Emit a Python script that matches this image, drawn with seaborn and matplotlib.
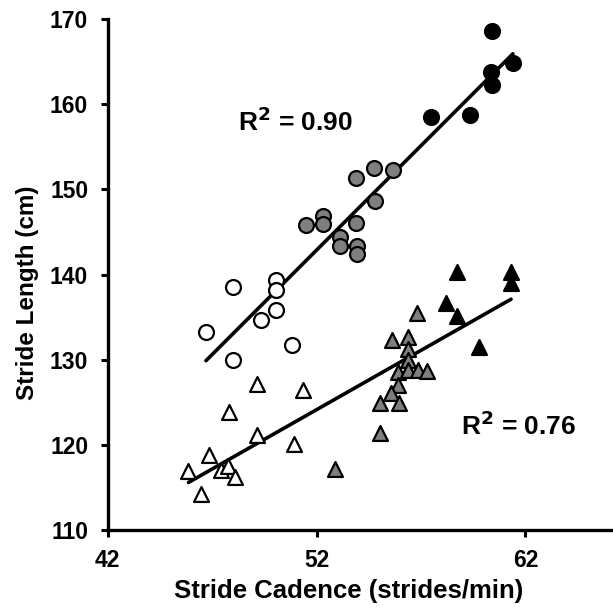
import matplotlib
matplotlib.use("Agg")
import matplotlib.pyplot as plt
import seaborn as sns
import numpy as np
import pandas as pd

# Upper group (circles)
open_circ_x = [47.98, 50.05, 50.08, 50.05, 49.33, 46.71, 50.81, 47.98]
open_circ_y = [138.5, 139.4, 138.2, 135.8, 134.7, 133.2, 131.7, 130.0]
gray_circ_x = [53.87, 54.76, 55.65, 54.78, 52.32, 52.32, 51.52, 53.90, 53.11, 53.11, 53.94, 53.94]
gray_circ_y = [151.3, 152.5, 152.3, 148.6, 146.9, 145.9, 145.8, 146.1, 144.4, 143.4, 143.4, 142.4]
black_circ_x = [60.40, 61.40, 60.37, 60.40, 57.46, 59.33]
black_circ_y = [168.6, 164.8, 163.8, 162.3, 158.5, 158.7]

# Lower group (triangles)
open_tri_x = [49.17, 51.37, 47.79, 49.14, 50.94, 46.84, 45.87, 47.43, 47.78, 48.11, 46.48]
open_tri_y = [127.2, 126.4, 123.8, 121.2, 120.1, 118.8, 116.9, 117.1, 117.5, 116.2, 114.2]
gray_tri_x = [56.83, 55.60, 56.36, 56.36, 56.36, 55.92, 56.40, 56.87, 57.30, 55.92, 55.55, 55.05, 55.95, 55.05, 52.90]
gray_tri_y = [135.5, 132.3, 132.7, 131.2, 130.0, 128.6, 128.8, 128.8, 128.7, 127.0, 126.1, 124.9, 124.9, 121.4, 117.2]
black_tri_x = [58.70, 61.31, 61.31, 58.22, 58.70, 59.78]
black_tri_y = [140.3, 140.3, 139.0, 136.6, 135.1, 131.5]

r2_labels = ["R$^{2}$ = 0.90", "R$^{2}$ = 0.76"]
x_ticks = [42, 52, 62]
y_ticks = [110, 120, 130, 140, 150, 160, 170]

sns.set_style("white")
plt.rcParams['font.family'] = ['Liberation Sans', 'DejaVu Sans']
plt.rcParams['font.weight'] = 'bold'
plt.rcParams['mathtext.default'] = 'bf'
plt.rcParams['text.color'] = 'black'
plt.rcParams['axes.labelcolor'] = 'black'
plt.rcParams['xtick.color'] = 'black'
plt.rcParams['ytick.color'] = 'black'

fig = plt.figure(figsize=(6.13, 6.09), dpi=100)
ax = fig.add_axes([0.1755, 0.1297, 0.8245, 0.8391])

circ = pd.DataFrame({
    "x": open_circ_x + gray_circ_x + black_circ_x,
    "y": open_circ_y + gray_circ_y + black_circ_y,
})
tri = pd.DataFrame({
    "x": open_tri_x + gray_tri_x + black_tri_x,
    "y": open_tri_y + gray_tri_y + black_tri_y,
})

sns.regplot(data=circ, x="x", y="y", scatter=False, ci=None, ax=ax,
            line_kws=dict(color="black", lw=2.6, zorder=2))
sns.regplot(data=tri, x="x", y="y", scatter=False, ci=None, ax=ax,
            line_kws=dict(color="black", lw=2.6, zorder=2))

ms = 115
ew = 1.6
groups = [
    (open_circ_x, open_circ_y, "white", "o"),
    (gray_circ_x, gray_circ_y, "#7f7f7f", "o"),
    (black_circ_x, black_circ_y, "black", "o"),
    (open_tri_x, open_tri_y, "white", "^"),
    (gray_tri_x, gray_tri_y, "#7f7f7f", "^"),
    (black_tri_x, black_tri_y, "black", "^"),
]
for gx, gy, col, mk in groups:
    sns.scatterplot(x=gx, y=gy, color=col, marker=mk, s=ms, edgecolor="black",
                    linewidth=ew, ax=ax, zorder=3, legend=False)

ax.text(48.24, 157.9, r2_labels[0], fontsize=19, fontweight="bold", va="center", ha="left", color="black")
ax.text(58.93, 122.2, r2_labels[1], fontsize=19, fontweight="bold", va="center", ha="left", color="black")

ax.set_xlim(42, 66.19)
ax.set_ylim(110, 170)
ax.set_xticks(x_ticks)
ax.set_yticks(y_ticks)
ax.set_xticklabels([str(t) for t in x_ticks], fontsize=16.5, fontweight="bold")
ax.set_yticklabels([str(t) for t in y_ticks], fontsize=16.5, fontweight="bold")
ax.set_xlabel("Stride Cadence (strides/min)", fontsize=18.5, fontweight="bold")
ax.set_ylabel("Stride Length (cm)", fontsize=17.5, fontweight="bold")
ax.xaxis.set_label_coords(0.476, -0.095)
ax.yaxis.set_label_coords(-0.136, 0.465)

for s in ["top", "right"]:
    ax.spines[s].set_visible(False)
for s in ["left", "bottom"]:
    ax.spines[s].set_linewidth(2.4)
    ax.spines[s].set_color("black")
ax.tick_params(axis="both", direction="out", length=5, width=2.2, color="black", pad=9, bottom=True, left=True)

fig.savefig("out.png", dpi=100)
